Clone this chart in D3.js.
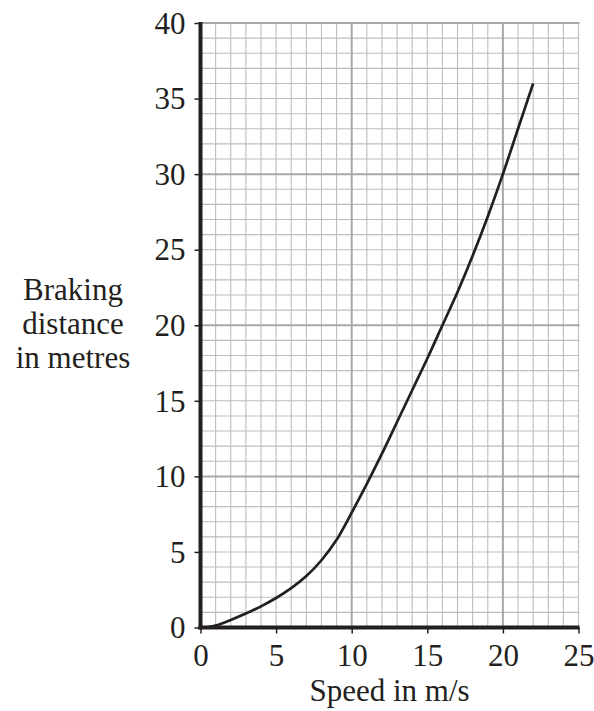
<!DOCTYPE html>
<html>
<head>
<meta charset="utf-8">
<script src="https://cdn.jsdelivr.net/npm/d3@7"></script>
<style>
  html, body { margin: 0; padding: 0; background: #fff; }
  svg { display: block; }
  text { font-family: "Liberation Serif", "Times New Roman", serif; fill: #231f20; }
</style>
</head>
<body>
<svg id="chart" width="594" height="711"></svg>
<script>
// Data
const speed = [0.3, 1, 2, 3, 4, 5, 6, 7, 8, 9, 10, 11, 12, 13, 14, 15, 16, 17, 18, 19, 20, 21, 22];
const distance = [0, 0.13, 0.5, 0.92, 1.4, 1.95, 2.6, 3.4, 4.45, 5.8, 7.6, 9.5, 11.5, 13.6, 15.7, 17.8, 20.0, 22.2, 24.6, 27.2, 30.0, 33.0, 36.0];
const xTicks = [0, 5, 10, 15, 20, 25];
const yTicks = [0, 5, 10, 15, 20, 25, 30, 35, 40];
const xTitle = "Speed in m/s";
const yTitle = ["Braking", "distance", "in metres"];

const svg = d3.select("#chart");
const x = d3.scaleLinear().domain([0, 25]).range([200.5, 578.5]);
const y = d3.scaleLinear().domain([0, 40]).range([627.5, 23]);
const ink = "#231f20";
const fs = "31px";

// grid
const g = svg.append("g");
const minorX = d3.range(1, 26).filter(v => v % 10 !== 0);
const minorY = d3.range(1, 41).filter(v => v % 10 !== 0);
g.selectAll(".vx").data(minorX).enter().append("line")
  .attr("x1", d => x(d)).attr("x2", d => x(d)).attr("y1", y(0)).attr("y2", y(40))
  .attr("stroke", "#bdbdbd").attr("stroke-width", 1.1);
g.selectAll(".hy").data(minorY).enter().append("line")
  .attr("y1", d => y(d)).attr("y2", d => y(d)).attr("x1", x(0)).attr("x2", x(25))
  .attr("stroke", "#bdbdbd").attr("stroke-width", 1.1);
g.selectAll(".vxM").data([10, 20]).enter().append("line")
  .attr("x1", d => x(d)).attr("x2", d => x(d)).attr("y1", y(0)).attr("y2", y(40))
  .attr("stroke", "#a8a8a8").attr("stroke-width", 2);
g.selectAll(".hyM").data([10, 20, 30, 40]).enter().append("line")
  .attr("y1", d => y(d)).attr("y2", d => y(d)).attr("x1", x(0)).attr("x2", x(25) + 1)
  .attr("stroke", "#a8a8a8").attr("stroke-width", 2);

// curve
const line = d3.line().x((d, i) => x(speed[i])).y(d => y(d)).curve(d3.curveCatmullRom.alpha(0.5));
svg.append("path").attr("d", line(distance))
  .attr("fill", "none").attr("stroke", ink).attr("stroke-width", 2.7).attr("stroke-linecap", "butt");

// axes
const xAxis = d3.axisBottom(x).tickValues(xTicks).tickSize(6).tickPadding(8);
const yAxis = d3.axisLeft(y).tickValues(yTicks).tickSize(6).tickPadding(8);
const gx = svg.append("g").attr("transform", `translate(0,${y(0)})`).call(xAxis);
const gy = svg.append("g").attr("transform", `translate(${x(0)},0)`).call(yAxis);
[gx, gy].forEach(a => {
  a.select(".domain").remove();
  a.selectAll(".tick line").attr("stroke", ink).attr("stroke-width", 1.5);
  a.selectAll(".tick text").attr("fill", ink).style("font-family", '"Liberation Serif", serif').style("font-size", fs);
});
gx.selectAll(".tick text").attr("dy", null).attr("y", 38);
gy.selectAll(".tick text").attr("x", -15).attr("dy", "0.33em");

svg.append("line").attr("x1", x(0)).attr("x2", x(0)).attr("y1", y(40) - 1).attr("y2", y(0) + 2)
  .attr("stroke", ink).attr("stroke-width", 4);
svg.append("line").attr("x1", x(0) - 2).attr("x2", x(25) + 1).attr("y1", y(0)).attr("y2", y(0))
  .attr("stroke", ink).attr("stroke-width", 4);

// titles
svg.append("text").attr("x", (x(0) + x(25)) / 2).attr("y", 701)
  .attr("text-anchor", "middle").style("font-size", fs).text(xTitle);
svg.append("text").attr("text-anchor", "middle").style("font-size", fs)
  .selectAll("tspan").data(yTitle).enter().append("tspan")
  .attr("x", 73).attr("y", (d, i) => 300 + i * 34).text(d => d);
</script>
</body>
</html>
